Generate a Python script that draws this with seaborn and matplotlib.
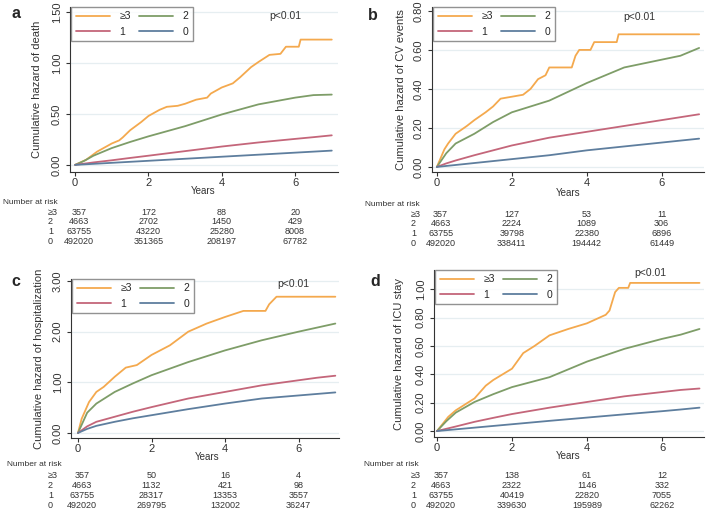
import matplotlib
matplotlib.use("Agg")
import matplotlib.pyplot as plt
import seaborn as sns
import pandas as pd
import numpy as np

# group names and colours
groups = ["≥3", "2", "1", "0"]
colors = {"≥3": "#F4A94E", "2": "#7E9D68", "1": "#C4667A", "0": "#5E7E9E"}

# shared time grid for the smoother curves
t_grid = [0, 0.25, 0.5, 1, 1.5, 2, 3, 4, 5, 6, 6.5, 7]

# a - death
death_t_ge3 = [0, 0.3, 0.6, 1.0, 1.2, 1.3, 1.5, 1.8, 2.0, 2.3, 2.5, 2.8, 3.0, 3.3, 3.6, 3.7,
               4.0, 4.3, 4.5, 4.8, 5.0, 5.3, 5.6, 5.75, 6.1, 6.15, 7.0]
death_ge3 = [0, 0.05, 0.13, 0.21, 0.24, 0.27, 0.34, 0.42, 0.48, 0.54, 0.57, 0.58, 0.60, 0.64, 0.66, 0.70,
             0.76, 0.80, 0.86, 0.96, 1.01, 1.08, 1.09, 1.16, 1.16, 1.23, 1.23]
death_2 = [0, 0.04, 0.09, 0.165, 0.225, 0.28, 0.38, 0.495, 0.594, 0.66, 0.685, 0.69]
death_1 = [0, 0.012, 0.024, 0.045, 0.068, 0.09, 0.135, 0.18, 0.22, 0.255, 0.272, 0.29]
death_0 = [0, 0.005, 0.01, 0.02, 0.03, 0.04, 0.06, 0.08, 0.10, 0.12, 0.13, 0.14]

# b - CV events
cv_t_ge3 = [0, 0.2, 0.3, 0.5, 0.8, 1.0, 1.3, 1.5, 1.7, 2.0, 2.3, 2.5, 2.7, 2.9, 3.0, 3.6, 3.7,
            3.8, 4.1, 4.2, 4.8, 4.85, 7.0]
cv_ge3 = [0, 0.09, 0.12, 0.17, 0.21, 0.24, 0.28, 0.31, 0.35, 0.36, 0.37, 0.40, 0.45, 0.47, 0.51, 0.51, 0.57,
          0.60, 0.60, 0.64, 0.64, 0.68, 0.68]
cv_2 = [0, 0.07, 0.12, 0.17, 0.23, 0.28, 0.34, 0.43, 0.51, 0.55, 0.57, 0.61]
cv_1 = [0, 0.018, 0.033, 0.06, 0.085, 0.11, 0.15, 0.18, 0.21, 0.24, 0.255, 0.27]
cv_0 = [0, 0.005, 0.01, 0.02, 0.03, 0.04, 0.06, 0.085, 0.105, 0.125, 0.135, 0.145]

# c - hospitalization
hosp_t_ge3 = [0, 0.1, 0.3, 0.5, 0.7, 1.0, 1.3, 1.6, 2.0, 2.5, 3.0, 3.5, 4.0, 4.5, 5.1, 5.2, 5.4, 7.0]
hosp_ge3 = [0, 0.28, 0.61, 0.81, 0.91, 1.11, 1.29, 1.34, 1.54, 1.73, 2.0, 2.16, 2.29, 2.41, 2.41, 2.54, 2.69, 2.69]
hosp_2 = [0, 0.40, 0.58, 0.81, 0.98, 1.14, 1.40, 1.63, 1.83, 2.0, 2.08, 2.16]
hosp_1 = [0, 0.13, 0.22, 0.32, 0.42, 0.51, 0.68, 0.81, 0.94, 1.04, 1.09, 1.13]
hosp_0 = [0, 0.08, 0.14, 0.22, 0.29, 0.35, 0.47, 0.58, 0.68, 0.74, 0.77, 0.80]

# d - ICU stay
icu_t_ge3 = [0, 0.3, 0.5, 1.0, 1.3, 1.5, 2.0, 2.3, 2.6, 3.0, 3.5, 4.0, 4.5, 4.6, 4.75, 4.85, 5.1, 5.15, 7.0]
icu_ge3 = [0, 0.10, 0.146, 0.23, 0.32, 0.36, 0.44, 0.55, 0.60, 0.675, 0.72, 0.76, 0.82, 0.85, 0.98, 1.01,
           1.01, 1.045, 1.045]
icu_2 = [0, 0.07, 0.13, 0.205, 0.26, 0.31, 0.38, 0.49, 0.58, 0.65, 0.68, 0.72]
icu_1 = [0, 0.016, 0.032, 0.065, 0.093, 0.12, 0.165, 0.205, 0.245, 0.275, 0.29, 0.30]
icu_0 = [0, 0.006, 0.012, 0.024, 0.036, 0.048, 0.072, 0.095, 0.118, 0.14, 0.152, 0.165]

# number at risk at years 0, 2, 4, 6 (rows: >=3, 2, 1, 0)
risk_years = [0, 2, 4, 6]
death_risk = [[357, 172, 88, 20], [4663, 2702, 1450, 429], [63755, 43220, 25280, 8008],
              [492020, 351365, 208197, 67782]]
cv_risk = [[357, 127, 53, 11], [4663, 2224, 1089, 306], [63755, 39798, 22380, 6896],
           [492020, 338411, 194442, 61449]]
hosp_risk = [[357, 50, 16, 4], [4663, 1132, 421, 98], [63755, 28317, 13353, 3557],
             [492020, 269795, 132002, 36247]]
icu_risk = [[357, 138, 61, 12], [4663, 2322, 1146, 332], [63755, 40419, 22820, 7055],
            [492020, 339630, 195989, 62262]]


def make_df(t_ge3, v_ge3, v2, v1, v0):
    rows = []
    for t, v in zip(t_ge3, v_ge3):
        rows.append(("≥3", t, v))
    for name, vals in [("2", v2), ("1", v1), ("0", v0)]:
        for t, v in zip(t_grid, vals):
            rows.append((name, t, v))
    return pd.DataFrame(rows, columns=["group", "years", "hazard"])


sns.set_style("white")
plt.rcParams["font.family"] = ["Liberation Sans", "DejaVu Sans"]

W, H = 708, 516
fig = plt.figure(figsize=(W / 100, H / 100), dpi=100)
txtc = "#333333"


def fx(x):
    return x / W


def fy(y):
    return 1 - y / H


panels = [
    dict(letter="a", df=make_df(death_t_ge3, death_ge3, death_2, death_1, death_0), risk=death_risk,
         ylabel="Cumulative hazard of death", box=(70, 7, 338, 172), xlim=(-0.14, 7.17), ylim=(-0.07, 1.55),
         yticks=[0, 0.5, 1.0, 1.5], ylab_x=37, let=(11, 14), p=(285, 16),
         years_y=191, nar=(3, 202), rows_y=[212, 222, 232, 242], rowlab_x=48),
    dict(letter="b", df=make_df(cv_t_ge3, cv_ge3, cv_2, cv_1, cv_0), risk=cv_risk,
         ylabel="Cumulative hazard of CV events", box=(432, 7, 704, 172), xlim=(-0.13, 7.13), ylim=(-0.026, 0.82),
         yticks=[0, 0.2, 0.4, 0.6, 0.8], ylab_x=401, let=(368, 15), p=(639, 17),
         years_y=193, nar=(365, 205), rows_y=[214, 224, 234, 244], rowlab_x=411),
    dict(letter="c", df=make_df(hosp_t_ge3, hosp_ge3, hosp_2, hosp_1, hosp_0), risk=hosp_risk,
         ylabel="Cumulative hazard of hospitalization", box=(71, 279, 339, 438), xlim=(-0.19, 7.1), ylim=(-0.10, 3.04),
         yticks=[0, 1, 2, 3], ylab_x=39, let=(11, 282), p=(293, 284),
         years_y=457, nar=(7, 465), rows_y=[475, 485, 495, 505], rowlab_x=48),
    dict(letter="d", df=make_df(icu_t_ge3, icu_ge3, icu_2, icu_1, icu_0), risk=icu_risk,
         ylabel="Cumulative hazard of ICU stay", box=(434, 270, 704, 437), xlim=(-0.08, 7.12), ylim=(-0.042, 1.136),
         yticks=[0, 0.2, 0.4, 0.6, 0.8, 1.0], ylab_x=399, let=(370, 282), p=(650, 273),
         years_y=456, nar=(364, 465), rows_y=[475, 485, 495, 505], rowlab_x=411),
]

for pn in panels:
    l, t, r, b = pn["box"]
    ax = fig.add_axes([fx(l), fy(b), (r - l) / W, (b - t) / H])
    for yv in pn["yticks"]:
        ax.axhline(yv, color="#E6EEF1", lw=0.9, zorder=0)
    sns.lineplot(data=pn["df"], x="years", y="hazard", hue="group", hue_order=groups,
                 palette=colors, estimator=None, sort=False, lw=1.3, ax=ax)
    ax.set_xlim(*pn["xlim"])
    ax.set_ylim(*pn["ylim"])
    ax.set_xticks([0, 2, 4, 6])
    ax.set_yticks(pn["yticks"])
    ax.set_yticklabels([f"{v:.2f}" for v in pn["yticks"]], rotation=90, va="center")
    ax.tick_params(axis="both", labelsize=8, length=3, width=0.8, color=txtc, pad=1.5, labelcolor=txtc)
    ax.tick_params(axis="y", pad=3)
    ax.tick_params(axis="both", which="major", bottom=True, left=True, direction="out")
    ax.set_xlabel("")
    ax.set_ylabel("")
    for s in ["top", "right"]:
        ax.spines[s].set_visible(False)
    for s in ["left", "bottom"]:
        ax.spines[s].set_color(txtc)
        ax.spines[s].set_linewidth(0.8)

    handles, labels = ax.get_legend_handles_labels()
    hmap = dict(zip(labels, handles))
    order = ["≥3", "1", "2", "0"]
    ax.legend([hmap[k] for k in order], order, ncol=2, loc="upper left", bbox_to_anchor=(0.005, 1.0),
              borderaxespad=0, frameon=True, fancybox=False, edgecolor="#777777", fontsize=7.5,
              handlelength=3.3, columnspacing=0.8, handletextpad=0.9, labelspacing=0.55,
              borderpad=0.4)

    # text pieces
    fig.text(fx(pn["ylab_x"]), fy((t + b) / 2), pn["ylabel"], rotation=90, ha="center", va="center",
             fontsize=8, color=txtc)
    fig.text(fx(pn["let"][0]), fy(pn["let"][1]), pn["letter"], fontsize=11.5, fontweight="bold",
             ha="left", va="center")
    fig.text(fx(pn["p"][0]), fy(pn["p"][1]), "p<0.01", fontsize=7.5, ha="center", va="center", color=txtc)

    trans = matplotlib.transforms.blended_transform_factory(ax.transData, fig.transFigure)
    fig.text(3.5, fy(pn["years_y"]), "Years", transform=trans, fontsize=7, ha="center", va="center",
             color=txtc)
    fig.text(fx(pn["nar"][0]), fy(pn["nar"][1]), "Number at risk", fontsize=6, ha="left", va="center",
             color=txtc)
    for gi, g in enumerate(groups):
        yy = fy(pn["rows_y"][gi])
        fig.text(fx(pn["rowlab_x"]), yy, g, fontsize=6.5, ha="left", va="center", color=txtc)
        for yr, n in zip(risk_years, pn["risk"][gi]):
            xpos = yr + (0.1 if yr == 0 else 0)
            fig.text(xpos, yy, str(n), transform=trans, fontsize=6.5, ha="center", va="center", color=txtc)

fig.savefig("out.png", dpi=100)
